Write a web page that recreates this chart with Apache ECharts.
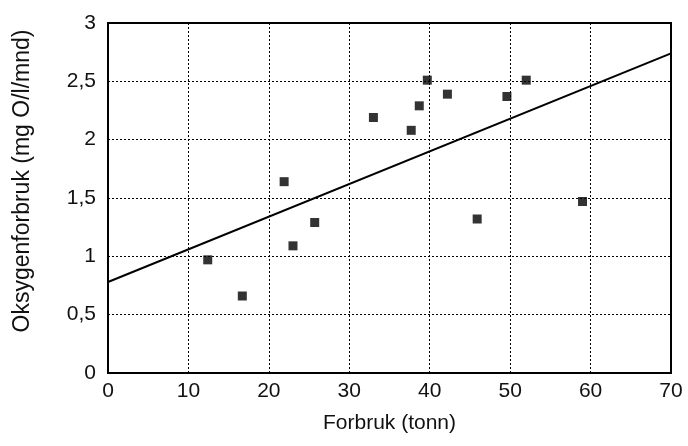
<!DOCTYPE html>
<html>
<head>
<meta charset="utf-8">
<script src="https://cdn.jsdelivr.net/npm/echarts@6/dist/echarts.min.js"></script>
<style>
  html, body { margin: 0; padding: 0; background: #fff; }
  #chart { width: 688px; height: 446px; }
</style>
</head>
<body>
<div id="chart"></div>
<script>
'use strict';

// forbruk (tonn) vs oksygenforbruk (mg O/l/mnd)
const forbruk = [12.4, 16.7, 21.9, 23.0, 25.7, 33.0, 37.7, 38.7, 39.7, 42.2, 45.9, 49.6, 52.0, 59.0];
const oksygen = [0.97, 0.66, 1.64, 1.09, 1.29, 2.19, 2.08, 2.29, 2.51, 2.39, 1.32, 2.37, 2.51, 1.47];

// trend line endpoints
const trendX = [0, 70];
const trendY = [0.78, 2.74];

const font = 'Liberation Sans, Arial, sans-serif';
const ink = '#111';

function renderChart() {
  const el = document.getElementById('chart');
  const chart = echarts.init(el, null, { renderer: 'canvas' });
  chart.setOption({
    backgroundColor: '#fff',
    animation: false,
    grid: {
      left: 108, right: 17, top: 23, bottom: 73,
      show: true, borderColor: '#000', borderWidth: 2, backgroundColor: 'transparent',
    },
    xAxis: {
      type: 'value', min: 0, max: 70, interval: 10,
      name: 'Forbruk (tonn)', nameLocation: 'middle', nameGap: 40,
      nameTextStyle: { color: ink, fontFamily: font, fontSize: 21 },
      axisLine: { show: false },
      axisTick: { show: false },
      axisLabel: { color: ink, fontFamily: font, fontSize: 21, margin: 8 },
      splitLine: { show: true, lineStyle: { color: '#000', type: [2, 2], width: 1 } },
    },
    yAxis: {
      type: 'value', min: 0, max: 3, interval: 0.5,
      name: 'Oksygenforbruk (mg O/l/mnd)', nameLocation: 'middle', nameGap: 74,
      nameTextStyle: { color: ink, fontFamily: font, fontSize: 23, padding: [0, 0, 0, 34] },
      axisLine: { show: false },
      axisTick: { show: false },
      axisLabel: {
        color: ink, fontFamily: font, fontSize: 21, margin: 12,
        formatter: (v) => String(v).replace('.', ','),
      },
      splitLine: { show: true, lineStyle: { color: '#000', type: [2, 2], width: 1 } },
    },
    series: [
      {
        type: 'scatter',
        data: forbruk.map((x, i) => [x, oksygen[i]]),
        symbol: 'rect', symbolSize: 9,
        itemStyle: { color: '#000' },
      },
      {
        type: 'line',
        data: trendX.map((x, i) => [x, trendY[i]]),
        showSymbol: false,
        lineStyle: { color: '#000', width: 2 },
      },
    ],
  });
  return chart;
}

renderChart();
</script>
</body>
</html>
